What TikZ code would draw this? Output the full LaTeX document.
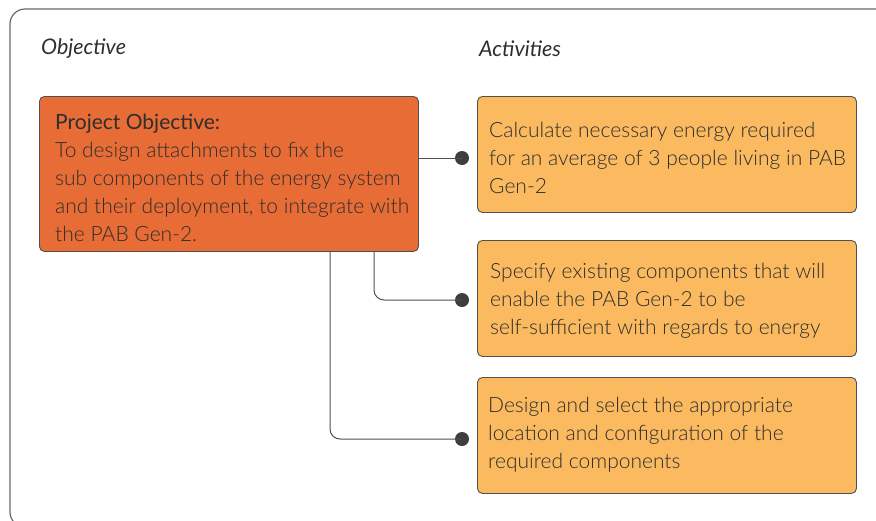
\documentclass[tikz,border=0pt]{standalone}
\usepackage{fontspec}
\setmainfont{Lato}
\newfontfamily\bodyfont{Lato Light}
\newfontfamily\headfont{Lato}
\newfontfamily\italfont{Lato Italic}
\definecolor{objorange}{HTML}{E86C35}
\definecolor{actorange}{HTML}{FBBA5F}
\definecolor{edgegrey}{HTML}{505050}
\definecolor{framegrey}{HTML}{6A6A6A}
\definecolor{dotgrey}{HTML}{3E3E3E}
\definecolor{textdark}{HTML}{2E2E2E}
\begin{document}
\begin{tikzpicture}[x=1pt,y=-1pt,
  objbox/.style={draw=edgegrey, line width=0.9pt, fill=objorange, rounded corners=5pt,
    minimum width=379pt, minimum height=155pt, inner sep=0pt, anchor=north west},
  actbox/.style={draw=edgegrey, line width=0.9pt, fill=actorange, rounded corners=5pt,
    minimum width=379pt, minimum height=116pt, inner sep=0pt, anchor=north west},
  boxtext/.style={align=left, anchor=west, text=textdark, font=\bodyfont\fontsize{21}{28}\selectfont, inner sep=0pt},
  heading/.style={anchor=west, text=textdark, font=\italfont\fontsize{21.5}{24}\selectfont, inner sep=0pt},
  dotnode/.style={circle, fill=dotgrey, minimum size=14pt, inner sep=0pt},
  link/.style={draw=edgegrey, line width=1pt, rounded corners=10pt}
]
\useasboundingbox (0,0) rectangle (876,520);
\draw[framegrey, line width=1.2pt, rounded corners=15pt] (10,9) rectangle (900,527);

\node[heading] (hobj) at (41,49) {Objective};
\node[heading] (hact) at (479,49) {Activities};

\node[objbox] (obj) at (39,96) {};
\node[boxtext] (objt) at (55,178) {{\headfont Project Objective:}\\To design attachments to fix the\\sub components of the energy system\\and their deployment, to integrate with\\the PAB Gen-2.};

\node[actbox] (a1) at (477,96) {};
\node[boxtext] (a1t) at (489,158) {Calculate necessary energy required\\for an average of 3 people living in PAB\\Gen-2};

\node[actbox] (a2) at (477,240) {};
\node[boxtext] (a2t) at (490,301) {Specify existing components that will\\enable the PAB Gen-2 to be\\self-sufficient with regards to energy};

\node[actbox] (a3) at (477,377) {};
\node[boxtext] (a3t) at (488,435) {Design and select the appropriate\\location and configuration of the\\required components};

\node[dotnode] (d1) at (462,158) {};
\node[dotnode] (d2) at (462,300) {};
\node[dotnode] (d3) at (462,439) {};

\draw[link] (obj.east |- d1) -- (d1.center);
\draw[link] (374,0 |- obj.south) -- (374,0 |- d2) -- (d2.center);
\draw[link] (330,0 |- obj.south) -- (330,0 |- d3) -- (d3.center);
\end{tikzpicture}
\end{document}
